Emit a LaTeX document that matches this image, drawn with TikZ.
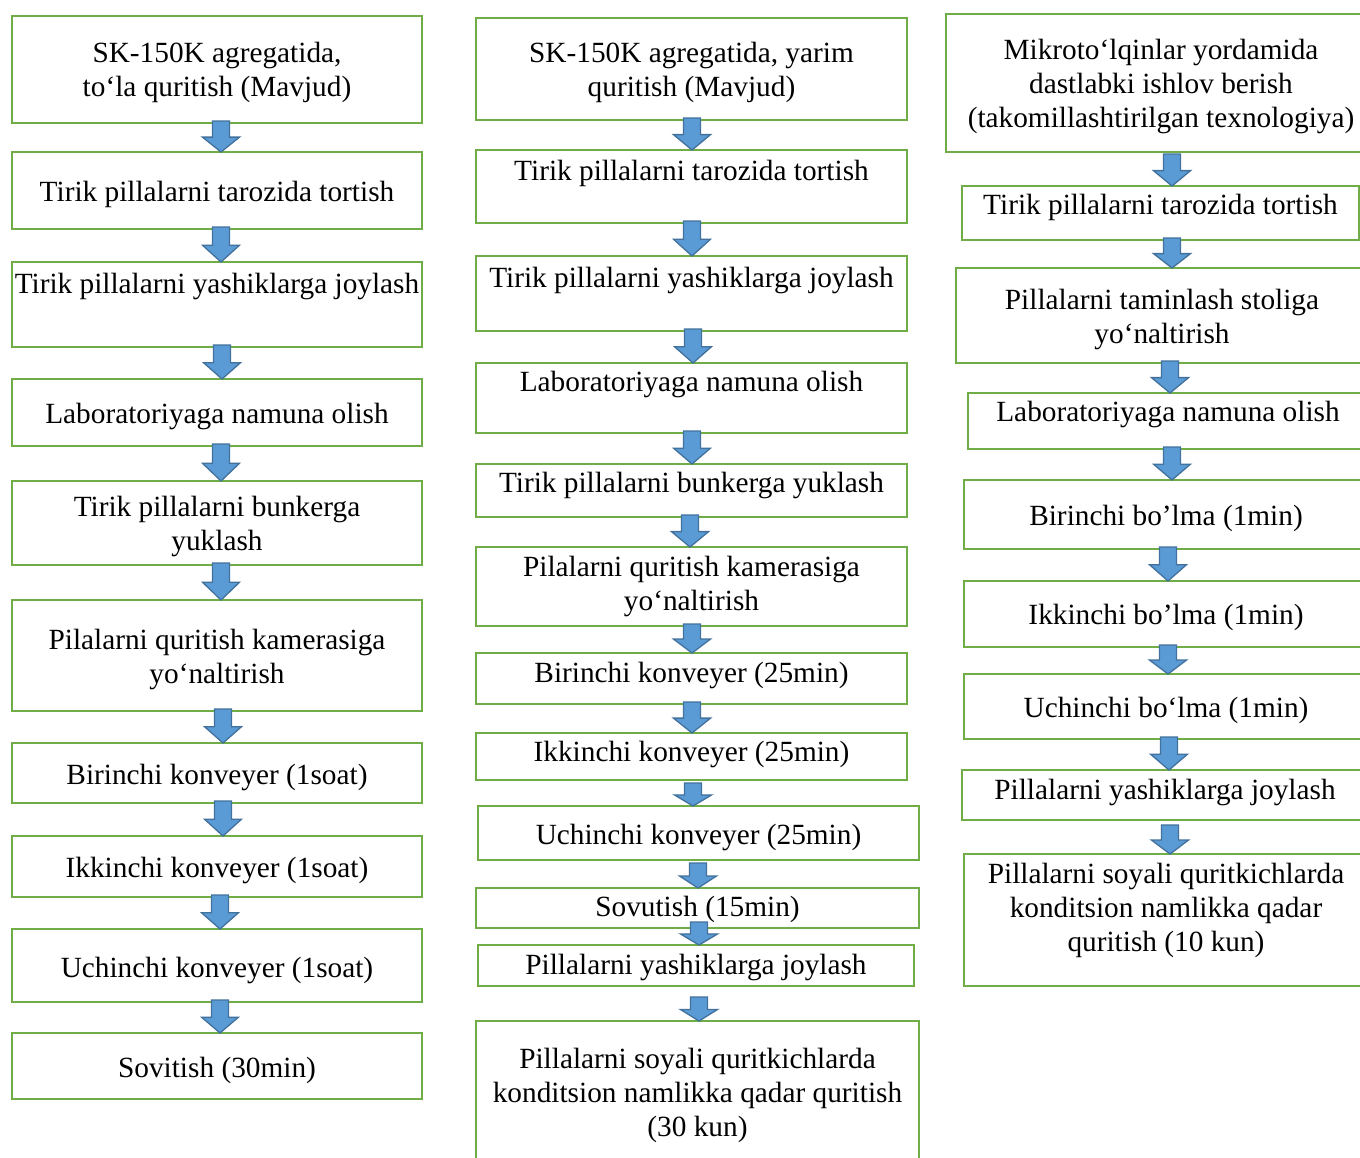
\documentclass[tikz,border=0pt]{standalone}
\usepackage{fontspec}
\setmainfont{Liberation Serif}
\usetikzlibrary{calc}
\definecolor{boxgreen}{HTML}{70AD47}
\definecolor{arrfill}{HTML}{5B9BD5}
\definecolor{arrline}{HTML}{41719C}
\tikzset{
  flowbox/.style={draw=boxgreen, line width=2.6pt, fill=white, rectangle, inner sep=0pt, outer sep=0pt},
  flowtxt/.style={font=\fontsize{29.3}{34}\selectfont, align=center, inner sep=0pt, outer sep=0pt},
  blockarr/.style={fill=arrfill, draw=arrline, line width=1.3pt, line join=miter}
}
% name, x1, y1, x2, y2, text centre y, text
\newcommand{\mkbox}[7]{%
  \node[flowbox, minimum width={(#4)-(#2)}, minimum height={(#5)-(#3)}] (#1) at ({((#2)+(#4))/2},{-((#3)+(#5))/2}) {};
  \node[flowtxt] (#1-t) at ({((#2)+(#4))/2},{-(#6)-3}) {#7};}
% [top offset] from, to, x
\newcommand{\barr}[4][-2]{%
  \coordinate (aTop) at ($(#4,0 |- #2.south)+(0,{-(#1)})$);
  \coordinate (aTip) at (#4,0 |- #3.north);
  \coordinate (aMid) at ($(aTop)!0.52!(aTip)$);
  \path[blockarr] ($(aTop)+(-8.5,0)$) -- ($(aTop)+(8.5,0)$) -- ($(aMid)+(8.5,0)$) -- ($(aMid)+(18.5,0)$) -- (aTip) -- ($(aMid)+(-18.5,0)$) -- ($(aMid)+(-8.5,0)$) -- cycle;}
\begin{document}
\begin{tikzpicture}[x=1pt,y=1pt]
\useasboundingbox (0,0) rectangle (1360,-1157);
\clip (0,0) rectangle (1360,-1157);
\fill[white] (0,0) rectangle (1360,-1157);
% Column 1
\mkbox{a1}{12}{16}{422}{123}{70}{\strut SK-150K agregatida,\\\strut to‘la quritish (Mavjud)}
\mkbox{a2}{12}{152}{422}{229}{192}{\strut Tirik pillalarni tarozida tortish}
\mkbox{a3}{12}{262}{422}{347}{284}{\strut Tirik pillalarni yashiklarga joylash}
\mkbox{a4}{12}{379}{422}{446}{414}{\strut Laboratoriyaga namuna olish}
\mkbox{a5}{12}{481}{422}{565}{524}{\strut Tirik pillalarni bunkerga\\\strut yuklash}
\mkbox{a6}{12}{600}{422}{711}{657}{\strut Pilalarni quritish kamerasiga\\\strut yo‘naltirish}
\mkbox{a7}{12}{743}{422}{803}{775}{\strut Birinchi konveyer (1soat)}
\mkbox{a8}{12}{836}{422}{897}{868}{\strut Ikkinchi konveyer (1soat)}
\mkbox{a9}{12}{929}{422}{1002}{968}{\strut Uchinchi konveyer (1soat)}
\mkbox{a10}{12}{1033}{422}{1099}{1068}{\strut Sovitish (30min)}
% Column 2
\mkbox{b1}{476}{18}{907}{120}{70}{\strut SK-150K agregatida, yarim\\\strut quritish (Mavjud)}
\mkbox{b2}{476}{150}{907}{223}{171}{\strut Tirik pillalarni tarozida tortish}
\mkbox{b3}{476}{256}{907}{331}{278}{\strut Tirik pillalarni yashiklarga joylash}
\mkbox{b4}{476}{363}{907}{433}{382}{\strut Laboratoriyaga namuna olish}
\mkbox{b5}{476}{464}{907}{517}{483}{\strut Tirik pillalarni bunkerga yuklash}
\mkbox{b6}{476}{547}{907}{626}{584}{\strut Pilalarni quritish kamerasiga\\\strut yo‘naltirish}
\mkbox{b7}{476}{653}{907}{704}{673}{\strut Birinchi konveyer (25min)}
\mkbox{b8}{476}{733}{907}{780}{752}{\strut Ikkinchi konveyer (25min)}
\mkbox{b9}{478}{806}{919}{860}{835}{\strut Uchinchi konveyer (25min)}
\mkbox{b10}{476}{888}{919}{928}{907}{\strut Sovutish (15min)}
\mkbox{b11}{478}{945}{914}{986}{965}{\strut Pillalarni yashiklarga joylash}
\mkbox{b12}{476}{1021}{919}{1170}{1093}{\strut Pillalarni soyali quritkichlarda\\\strut konditsion namlikka qadar quritish\\\strut (30 kun)}
% Column 3
\mkbox{c1}{946}{14}{1376}{152}{84}{\strut Mikroto‘lqinlar yordamida\\\strut dastlabki ishlov berish\\\strut (takomillashtirilgan texnologiya)}
\mkbox{c2}{962}{186}{1359}{240}{205}{\strut Tirik pillalarni tarozida tortish}
\mkbox{c3}{956}{268}{1368}{363}{317}{\strut Pillalarni taminlash stoliga\\\strut yo‘naltirish}
\mkbox{c4}{968}{393}{1368}{449}{412}{\strut Laboratoriyaga namuna olish}
\mkbox{c5}{964}{480}{1368}{549}{516}{\strut Birinchi bo’lma (1min)}
\mkbox{c6}{964}{581}{1368}{647}{615}{\strut Ikkinchi bo’lma (1min)}
\mkbox{c7}{964}{674}{1368}{739}{708}{\strut Uchinchi bo‘lma (1min)}
\mkbox{c8}{962}{770}{1368}{820}{790}{\strut Pillalarni yashiklarga joylash}
\mkbox{c9}{964}{854}{1368}{986}{908}{\strut Pillalarni soyali quritkichlarda\\\strut konditsion namlikka qadar\\\strut quritish (10 kun)}
% Arrows column 1
\barr{a1}{a2}{221}
\barr{a2}{a3}{221}
\barr{a3}{a4}{222}
\barr{a4}{a5}{221}
\barr{a5}{a6}{221}
\barr{a6}{a7}{223}
\barr{a7}{a8}{223}
\barr{a8}{a9}{220}
\barr{a9}{a10}{220}
% Arrows column 2
\barr{b1}{b2}{692}
\barr{b2}{b3}{692}
\barr{b3}{b4}{693}
\barr{b4}{b5}{692}
\barr{b5}{b6}{690}
\barr{b6}{b7}{692}
\barr{b7}{b8}{692}
\barr[3]{b8}{b9}{693}
\barr[3]{b9}{b10}{698}
\barr[-6]{b10}{b11}{699}
\barr[11]{b11}{b12}{699}
% Arrows column 3
\barr[2]{c1}{c2}{1172}
\barr{c2}{c3}{1172}
\barr{c3}{c4}{1170}
\barr{c4}{c5}{1172}
\barr{c5}{c6}{1168}
\barr{c6}{c7}{1168}
\barr{c7}{c8}{1169}
\barr[5]{c8}{c9}{1170}
\end{tikzpicture}
\end{document}
